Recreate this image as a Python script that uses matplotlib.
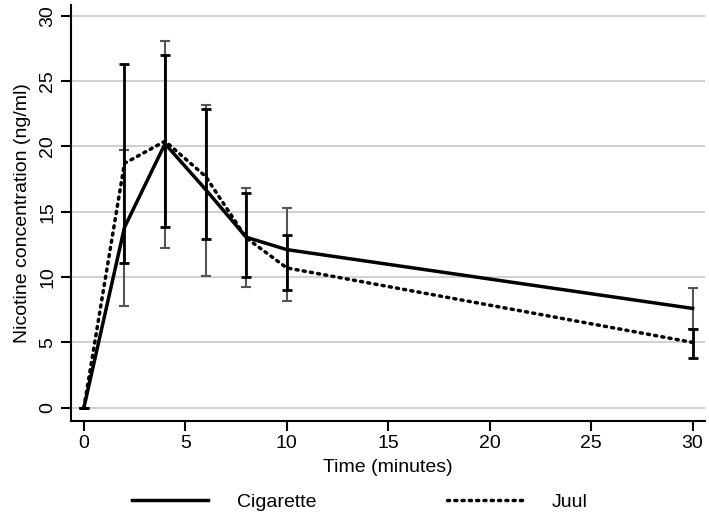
import matplotlib.pyplot as plt
import numpy as np

plt.rcParams['font.family'] = ['Liberation Sans', 'DejaVu Sans']

# Data
time = [0, 2, 4, 6, 8, 10, 30]
cig_mean = [0, 13.8, 20.2, 16.7, 13.05, 12.1, 7.6]
cig_upper = [0, 19.7, 28.1, 23.15, 16.8, 15.3, 9.15]
cig_lower = [0, 7.8, 12.2, 10.1, 9.27, 8.15, 6.0]
juul_mean = [0, 18.7, 20.4, 17.7, 13.0, 10.7, 5.0]
juul_upper = [0, 26.3, 27.0, 22.85, 16.4, 13.25, 6.0]
juul_lower = [0, 11.1, 13.8, 12.9, 10.0, 9.0, 3.8]

fig = plt.figure(figsize=(7.09, 5.26), dpi=100)
ax = fig.add_axes([0.1, 0.2, 0.894, 0.79])

cm = np.array(cig_mean)
jm = np.array(juul_mean)
cig_err = [cm - np.array(cig_lower), np.array(cig_upper) - cm]
juul_err = [jm - np.array(juul_lower), np.array(juul_upper) - jm]

ax.errorbar(time, cig_mean, yerr=cig_err, fmt='none', ecolor='#555555',
            elinewidth=1.5, capsize=3.5, capthick=1.5, zorder=2)
ax.errorbar(time, juul_mean, yerr=juul_err, fmt='none', ecolor='black',
            elinewidth=2, capsize=3.5, capthick=2, zorder=2)

ax.plot(time, cig_mean, color='black', lw=2.5, label='Cigarette', zorder=3)
ax.plot(time, juul_mean, color='black', lw=2.5, linestyle=(0, (0.6, 1.5)),
        dash_capstyle='round', label='Juul', zorder=3)

ax.set_xlim(-0.64, 30.6)
ax.set_ylim(-1.0, 30.8)
ax.set_xticks([0, 5, 10, 15, 20, 25, 30])
ax.set_yticks([0, 5, 10, 15, 20, 25, 30])
ax.yaxis.grid(True, color='#c8c8c8', lw=1.2)
ax.set_axisbelow(True)
for s in ['top', 'right']:
    ax.spines[s].set_visible(False)
for s in ['left', 'bottom']:
    ax.spines[s].set_linewidth(1.5)
ax.tick_params(direction='out', length=7, width=1.5, labelsize=14)
plt.setp(ax.get_yticklabels(), rotation=90, va='center')

ax.set_xlabel('Time (minutes)', fontsize=14, labelpad=5)
ax.set_ylabel('Nicotine concentration (ng/ml)', fontsize=14, labelpad=6)

fig.legend(loc='center', bbox_to_anchor=(0.508, 0.045), ncol=2,
           frameon=False, fontsize=14, handlelength=3.9,
           handletextpad=1.5, columnspacing=6.7)

fig.savefig('out.png', dpi=100)
